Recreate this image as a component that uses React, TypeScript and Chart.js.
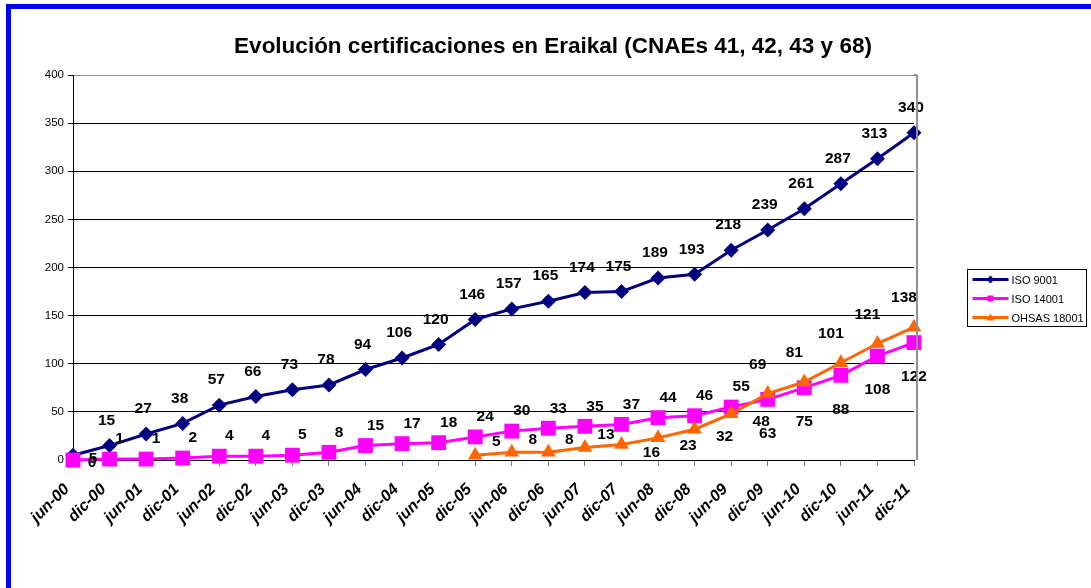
import React, { useEffect, useRef } from "react";
import { Chart, registerables } from "chart.js";

Chart.register(...registerables);

const TITLE = "Evolución certificaciones en Eraikal (CNAEs 41, 42, 43 y 68)";

const categories = [
  "jun-00", "dic-00", "jun-01", "dic-01", "jun-02", "dic-02", "jun-03", "dic-03",
  "jun-04", "dic-04", "jun-05", "dic-05", "jun-06", "dic-06", "jun-07", "dic-07",
  "jun-08", "dic-08", "jun-09", "dic-09", "jun-10", "dic-10", "jun-11", "dic-11",
];

const seriesNames = ["ISO 9001", "ISO 14001", "OHSAS 18001"];

const iso9001 = [5, 15, 27, 38, 57, 66, 73, 78, 94, 106, 120, 146, 157, 165, 174, 175, 189, 193, 218, 239, 261, 287, 313, 340];
const iso14001 = [0, 1, 1, 2, 4, 4, 5, 8, 15, 17, 18, 24, 30, 33, 35, 37, 44, 46, 55, 63, 75, 88, 108, 122];
const ohsas18001 = [null, null, null, null, null, null, null, null, null, null, null, 5, 8, 8, 13, 16, 23, 32, 48, 69, 81, 101, 121, 138];

const yTicks = [0, 50, 100, 150, 200, 250, 300, 350, 400];

const FONT = '"Liberation Sans", Arial, sans-serif';
const COLORS = ["#000080", "#FF00FF", "#FF6600"];
const SHAPES = ["rectRot", "rect", "triangle"];
const RADII = [7.5, 10.5, 8.5];

// label placement rule (mimics Excel's label layout)
function labelOffset(series: number, v: number): [number, number] {
  if (series === 0) {
    if (v < 10) return [20, 4];
    return [-3, -25];
  }
  if (series === 1) {
    if (v === 0) return [19, 3];
    if (v < 60) return [10, -20];
    return [0, 34];
  }
  if (v < 15) return [21, -13];
  if (v < 50) return [30, 8];
  return [-10, -29];
}

const labelPlugin = {
  id: "valueLabels",
  afterDatasetsDraw(chart: any) {
    const ctx = chart.ctx;
    ctx.save();
    ctx.font = `bold 15.5px ${FONT}`;
    ctx.fillStyle = "#000";
    ctx.textAlign = "center";
    ctx.textBaseline = "middle";
    chart.data.datasets.forEach((ds: any, di: number) => {
      const meta = chart.getDatasetMeta(di);
      meta.data.forEach((pt: any, i: number) => {
        const v = ds.data[i];
        if (v == null) return;
        const [dx, dy] = labelOffset(di, v);
        ctx.fillText(String(v), pt.x + dx, pt.y + dy);
      });
    });
    ctx.restore();
  },
};

const decorPlugin = {
  id: "decor",
  afterDraw(chart: any) {
    const ctx = chart.ctx;
    const ca = chart.chartArea;
    ctx.save();
    // right border of plot area
    ctx.strokeStyle = "#909090";
    ctx.lineWidth = 2;
    ctx.beginPath();
    ctx.moveTo(ca.right + 3, ca.top);
    ctx.lineTo(ca.right + 3, ca.bottom);
    ctx.moveTo(ca.right, ca.top);
    ctx.lineTo(ca.right + 3, ca.top);
    ctx.stroke();

    // title
    ctx.fillStyle = "#000";
    ctx.font = `bold 22.5px ${FONT}`;
    ctx.textAlign = "center";
    ctx.textBaseline = "middle";
    ctx.fillText(TITLE, 553, 47);

    // legend
    const bx = 967.5, by = 269.5, bw = 119, bh = 57;
    ctx.fillStyle = "#fff";
    ctx.fillRect(bx, by, bw, bh);
    ctx.strokeStyle = "#000";
    ctx.lineWidth = 1;
    ctx.strokeRect(bx, by, bw, bh);
    ctx.font = `11px ${FONT}`;
    ctx.textAlign = "left";
    chart.data.datasets.forEach((ds: any, i: number) => {
      const y = by + 10 + i * 19;
      ctx.strokeStyle = ds.borderColor;
      ctx.lineWidth = 3;
      ctx.beginPath();
      ctx.moveTo(bx + 5, y);
      ctx.lineTo(bx + 41, y);
      ctx.stroke();
      ctx.fillStyle = ds.borderColor;
      ctx.beginPath();
      const cx = bx + 23;
      if (i === 0) {
        ctx.moveTo(cx, y - 4); ctx.lineTo(cx + 4, y); ctx.lineTo(cx, y + 4); ctx.lineTo(cx - 4, y);
      } else if (i === 1) {
        ctx.rect(cx - 3, y - 3, 6, 6);
      } else {
        ctx.moveTo(cx, y - 4); ctx.lineTo(cx + 4, y + 3); ctx.lineTo(cx - 4, y + 3);
      }
      ctx.closePath();
      ctx.fill();
      ctx.fillStyle = "#000";
      ctx.fillText(ds.label, bx + 44, y + 1);
    });
    ctx.restore();
  },
};

export default function App() {
  const ref = useRef<HTMLCanvasElement | null>(null);

  useEffect(() => {
    if (!ref.current) return;
    const seriesData = [iso9001, iso14001, ohsas18001];
    const chart = new Chart(ref.current, {
      type: "line",
      data: {
        labels: categories,
        datasets: seriesData.map((d, i) => ({
          label: seriesNames[i],
          data: d as any,
          order: seriesData.length - 1 - i,
          borderColor: COLORS[i],
          backgroundColor: COLORS[i],
          borderWidth: 3,
          pointStyle: SHAPES[i] as any,
          pointRadius: RADII[i],
          pointBorderWidth: 0,
          pointBackgroundColor: COLORS[i],
          tension: 0,
          spanGaps: false,
          fill: false,
          clip: false as any,
        })),
      },
      options: {
        responsive: false,
        animation: false,
        layout: { padding: { top: 75, left: 0, right: 177, bottom: 0 } },
        plugins: {
          legend: { display: false },
          title: { display: false },
          tooltip: { enabled: false },
        },
        scales: {
          x: {
            type: "category",
            offset: false,
            grid: {
              display: true,
              drawOnChartArea: false,
              drawTicks: true,
              tickLength: 6,
              color: "#808080",
            },
            border: { display: true, color: "#000", width: 1 },
            ticks: {
              autoSkip: false,
              minRotation: 45,
              maxRotation: 45,
              padding: 14,
              labelOffset: -6,
              color: "#000",
              font: { family: FONT, size: 16, weight: "bold", style: "italic" },
            },
            afterFit: (s: any) => {
              s.height = 128;
            },
          },
          y: {
            min: 0,
            max: 400,
            afterBuildTicks: (s: any) => {
              s.ticks = yTicks.map((v) => ({ value: v }));
            },
            grid: {
              color: (c: any) => (c.tick && c.tick.value === 400 ? "#909090" : "#000"),
              tickLength: 5,
              tickColor: "#000",
            },
            border: { display: true, color: "#000", width: 1 },
            ticks: {
              padding: 4,
              color: "#000",
              font: { family: FONT, size: 11.5 },
            },
            afterFit: (s: any) => {
              s.width = 73;
            },
          },
        },
      },
      plugins: [labelPlugin, decorPlugin],
    });
    return () => chart.destroy();
  }, []);

  return (
    <div style={{ position: "fixed", left: 0, top: 0, width: 1091, height: 588, background: "#fff", overflow: "hidden" }}>
      <div
        style={{
          position: "absolute",
          left: 6,
          top: 4,
          width: 1200,
          height: 700,
          borderLeft: "5px solid #0000FF",
          borderTop: "5px solid #0000FF",
        }}
      />
      <canvas ref={ref} width={1091} height={588} style={{ position: "absolute", left: 0, top: 0 }} />
    </div>
  );
}
